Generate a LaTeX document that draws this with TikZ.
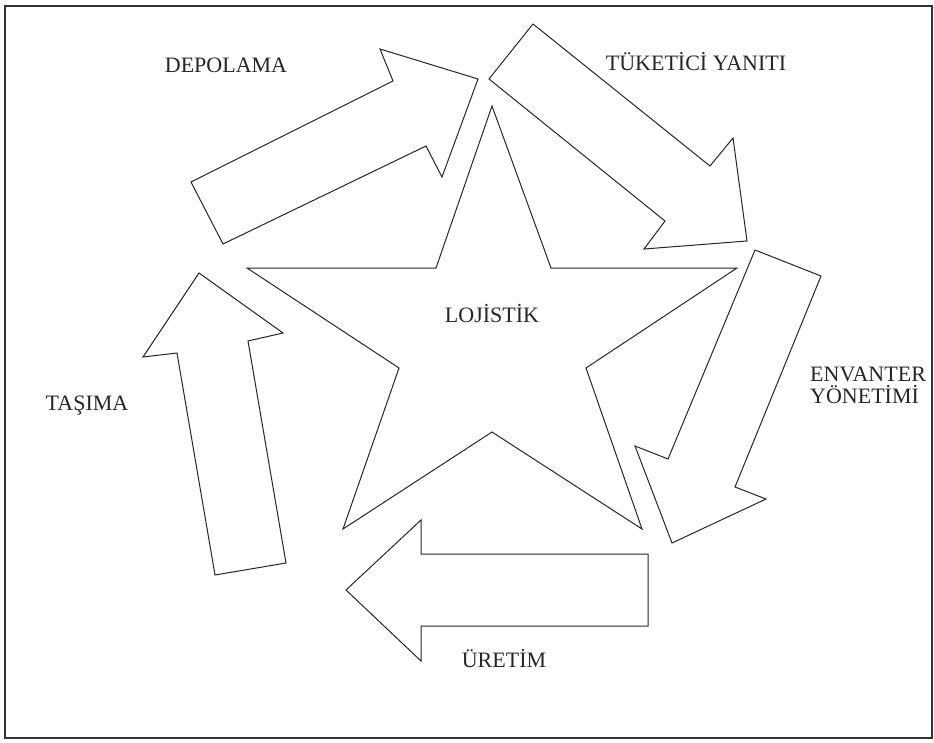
\documentclass[tikz,border=0pt]{standalone}
\usepackage{fontspec}
\setmainfont{Liberation Serif}
\begin{document}
\begin{tikzpicture}[x=1pt,y=-1pt,
  shapeline/.style={draw=black!85, line width=1pt, line join=miter, fill=white},
  lbl/.style={font=\fontsize{22}{22}\selectfont, text=black!85, inner sep=0pt},
  frame/.style={draw=black!80, line width=2pt}]
\useasboundingbox (0,0) rectangle (934,742);
\draw[frame] (5,6) rectangle (932,738);
% star
\draw[shapeline] (492,106) -- (551,268) -- (737,268) -- (586,368) -- (642,529)
  -- (492,432) -- (343,529) -- (399,368) -- (247,268) -- (436,268) -- cycle;
% DEPOLAMA arrow
\draw[shapeline] (223,244) -- (191,182) -- (393,81) -- (380,49) -- (478,79)
  -- (442,177) -- (426,146) -- cycle;
% TUKETICI arrow
\draw[shapeline] (533,24) -- (489,79) -- (665,221) -- (644,249) -- (747,241)
  -- (733,138) -- (710,166) -- cycle;
% ENVANTER arrow
\draw[shapeline] (755,250) -- (821,276) -- (735,487) -- (766,499) -- (672,543)
  -- (635,446) -- (668,459) -- cycle;
% URETIM arrow
\draw[shapeline] (648,554) -- (421,554) -- (421,520) -- (346,590) -- (421,661)
  -- (421,626) -- (648,626) -- cycle;
% TASIMA arrow
\draw[shapeline] (199,273) -- (283,333) -- (248,341) -- (286,563) -- (215,575)
  -- (177,353) -- (143,357) -- cycle;
% labels
\node[lbl, anchor=base] (lojistik) at (492,322) {LOJİSTİK};
\node[lbl, anchor=base] (depolama) at (226,72) {DEPOLAMA};
\node[lbl, anchor=base] (tuketici) at (696,70) {TÜKETİCİ YANITI};
\node[lbl, anchor=north west, align=left] (envanter) at (810,367) {ENVANTER\\YÖNETİMİ};
\node[lbl, anchor=base] (tasima) at (87,410) {TAŞIMA};
\node[lbl, anchor=base] (uretim) at (504,667) {ÜRETİM};
\end{tikzpicture}
\end{document}
